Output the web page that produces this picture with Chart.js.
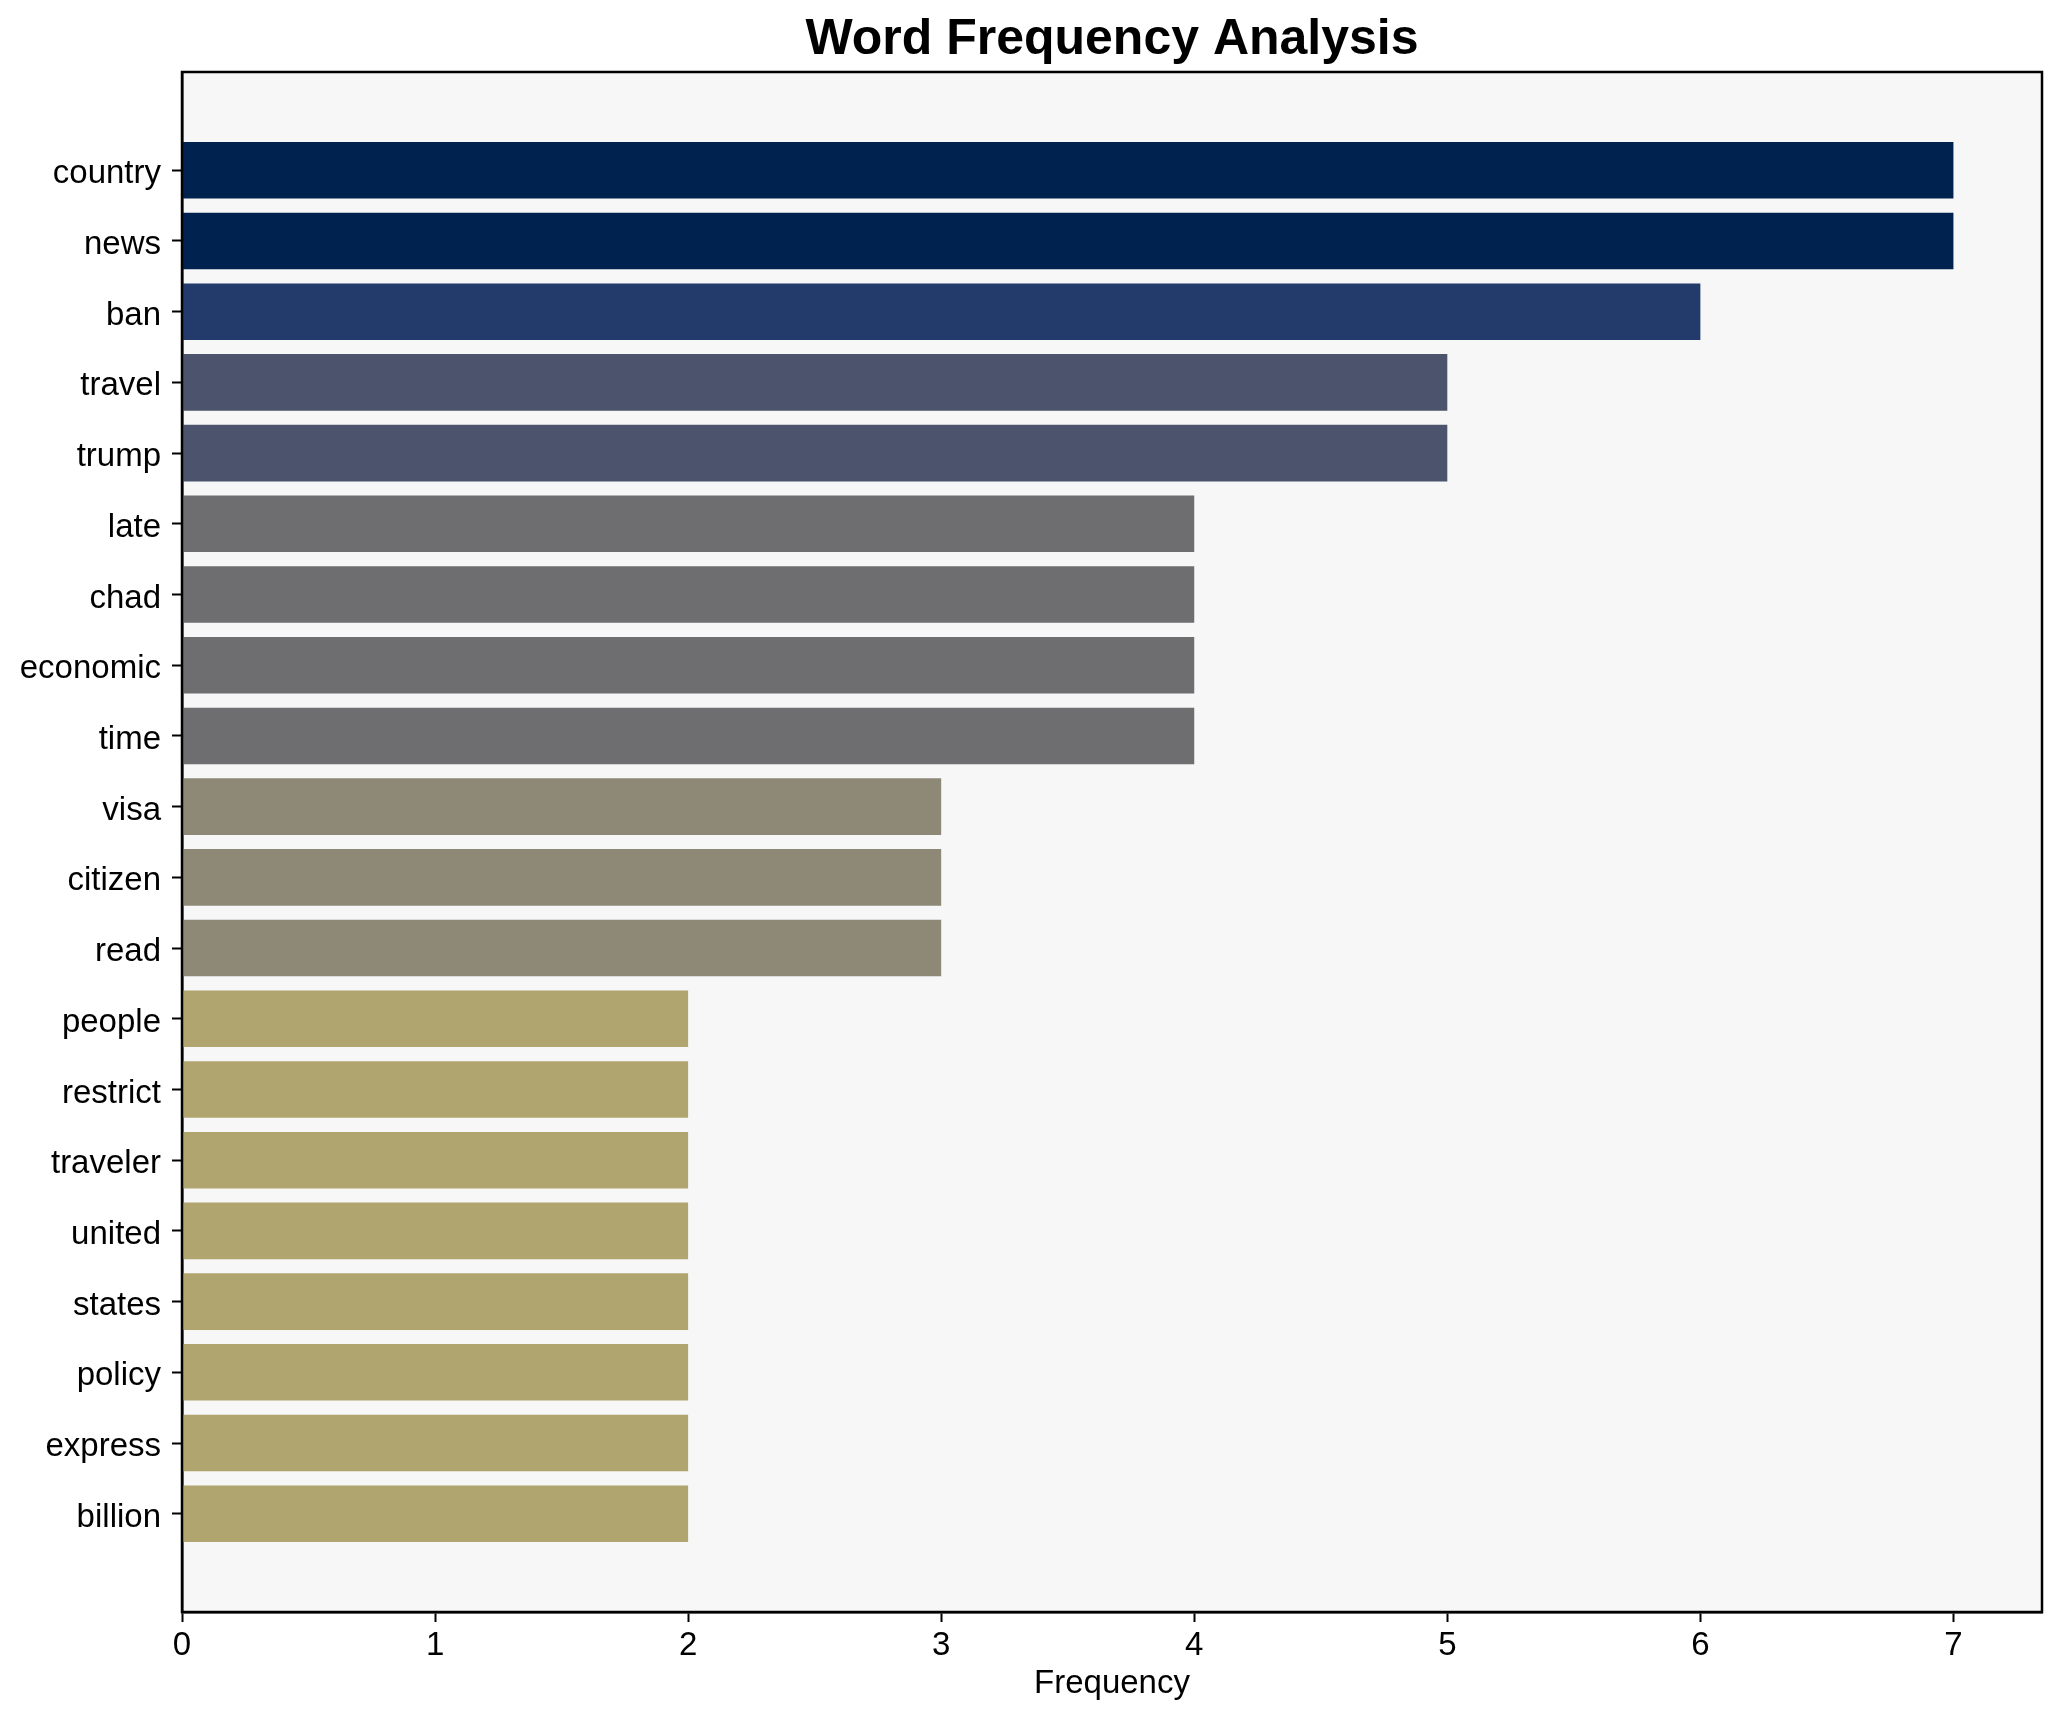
<!DOCTYPE html>
<html>
<head>
<meta charset="utf-8">
<script src="https://cdn.jsdelivr.net/npm/chart.js@4.4.0/dist/chart.umd.min.js"></script>
<style>
  body { margin: 0; background: #fff; }
</style>
</head>
<body>
<canvas id="myChart" width="2062" height="1722"></canvas>
<script>
// word frequencies, top to bottom
const words = ['country', 'news', 'ban', 'travel', 'trump', 'late', 'chad', 'economic', 'time',
  'visa', 'citizen', 'read', 'people', 'restrict', 'traveler', 'united', 'states', 'policy',
  'express', 'billion'];
const freqs = [7, 7, 6, 5, 5, 4, 4, 4, 4, 3, 3, 3, 2, 2, 2, 2, 2, 2, 2, 2];
const xTicks = [0, 1, 2, 3, 4, 5, 6, 7];

// cividis-ish colour for each frequency
const palette = {
  7: '#00224e',
  6: '#223b6b',
  5: '#4b546c',
  4: '#6e6e71',
  3: '#8e8877',
  2: '#b0a56f'
};

const font = "'Liberation Sans', Arial, sans-serif";

const frame = {
  id: 'frame',
  beforeDraw(chart) {
    const { ctx, chartArea: a } = chart;
    ctx.save();
    ctx.fillStyle = '#f7f7f7';
    ctx.fillRect(a.left, a.top, a.right - a.left, a.bottom - a.top);
    ctx.restore();
  },
  afterDraw(chart) {
    const { ctx, chartArea: a } = chart;
    ctx.save();
    ctx.strokeStyle = '#000';
    ctx.lineWidth = 2.5;
    ctx.strokeRect(a.left, a.top, a.right - a.left, a.bottom - a.top);
    ctx.restore();
  }
};

let ctx = document.getElementById('myChart').getContext('2d');
let chart = new Chart(ctx, {
  type: 'bar',
  data: {
    datasets: [{
      label: 'Frequency',
      data: freqs.map((v, i) => ({ x: v, y: i })),
      backgroundColor: freqs.map(v => palette[v]),
      borderWidth: 0,
      categoryPercentage: 1,
      barPercentage: 0.8
    }]
  },
  options: {
    indexAxis: 'y',
    responsive: false,
    animation: false,
    layout: { padding: { left: 0, right: 20, top: 0, bottom: 0 } },
    plugins: {
      legend: { display: false },
      tooltip: { enabled: false },
      title: {
        display: true,
        text: 'Word Frequency Analysis',
        fullSize: false,
        color: '#000',
        font: { family: font, size: 50, weight: 'bold', lineHeight: 1.2 },
        padding: { top: 10, bottom: 2 }
      }
    },
    scales: {
      x: {
        type: 'linear',
        min: 0,
        max: 7.35,
        afterBuildTicks: (axis) => { axis.ticks = xTicks.map(v => ({ value: v })); },
        afterFit: (scale) => { scale.height = 110; },
        ticks: { color: '#000', padding: 4, font: { family: font, size: 33 } },
        grid: { display: true, drawOnChartArea: false, drawTicks: true, tickLength: 10, tickColor: '#000', tickWidth: 2 },
        border: { display: true, color: '#000', width: 2.5 },
        title: {
          display: true,
          text: 'Frequency',
          color: '#000',
          font: { family: font, size: 33, lineHeight: 1.2 },
          padding: { top: 0, bottom: 18 }
        }
      },
      y: {
        type: 'linear',
        reverse: true,
        offset: false,
        min: -1.39,
        max: words.length - 1 + 1.39,
        afterBuildTicks: (axis) => { axis.ticks = words.map((w, i) => ({ value: i })); },
        afterFit: (scale) => { scale.width = 182; },
        ticks: {
          color: '#000',
          padding: 11,
          labelOffset: 4,
          font: { family: font, size: 33 },
          callback: (v) => words[v]
        },
        grid: { display: true, offset: false, drawOnChartArea: false, drawTicks: true, tickLength: 10, tickColor: '#000', tickWidth: 2 },
        border: { display: true, color: '#000', width: 2.5 }
      }
    }
  },
  plugins: [frame]
});
</script>
</body>
</html>
